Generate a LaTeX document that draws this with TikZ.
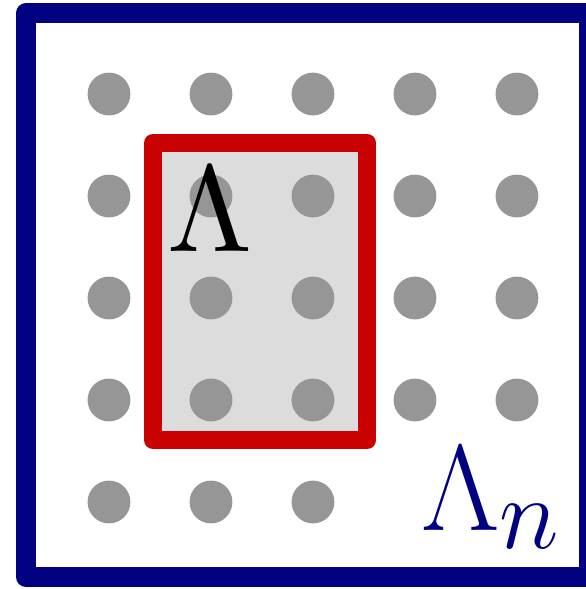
\documentclass[tikz,border=0pt]{standalone}
\definecolor{boxnavy}{RGB}{0,0,128}
\definecolor{boxred}{RGB}{200,0,0}
\definecolor{boxfill}{RGB}{220,220,220}
\definecolor{dotgray}{RGB}{150,150,150}
\begin{document}
\begin{tikzpicture}[
  site/.style={circle,fill=dotgray,inner sep=0pt,minimum size=0.42cm},
  outerbox/.style={draw=boxnavy,line width=5.6pt,line join=round},
  innerbox/.style={draw=boxred,fill=boxfill,line width=5pt,line join=round},
  biglab/.style={inner sep=0pt,anchor=base west}]
  \useasboundingbox (-0.0686,0.147) rectangle (5.676,5.922);
  % big volume
  \draw[outerbox] (0.186,0.265) rectangle (5.706,5.794);
  % small volume
  \draw[innerbox] (1.431,1.608) rectangle (3.534,4.52);
  % lattice sites
  \foreach \i in {1,...,5}
    \foreach \j in {2,...,5}
      \node[site] (d\i\j) at (\i,\j) {};
  \foreach \i in {1,2,3}
    \node[site] (d\i1) at (\i,1) {};
  % labels
  \node[biglab,font=\normalsize,scale=3.42] (lam) at (1.55,3.46) {$\Lambda$};
  \node[biglab,font=\Huge,scale=1.37,text=boxnavy] (lamn) at (4.05,0.725) {$\Lambda_n$};
\end{tikzpicture}
\end{document}
